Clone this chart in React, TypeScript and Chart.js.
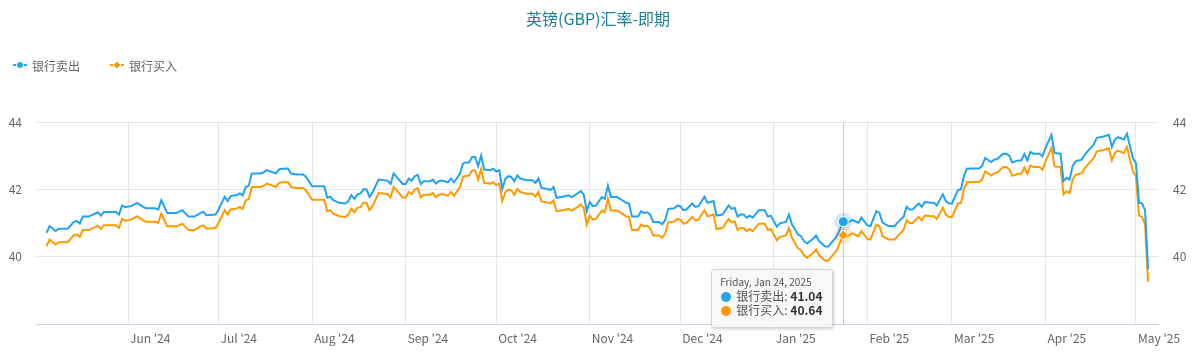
import React, { useEffect, useRef } from 'react';
import { Chart, registerables } from 'chart.js';

Chart.register(...registerables);

const TITLE = '英镑(GBP)汇率-即期';
const SERIES_NAMES = ['银行卖出', '银行买入'];

const dates = [
  '2024-05-05','2024-05-06','2024-05-08','2024-05-09','2024-05-12','2024-05-14','2024-05-15','2024-05-16','2024-05-17','2024-05-19','2024-05-22','2024-05-23','2024-05-24','2024-05-28','2024-05-29','2024-05-30','2024-05-31',
  '2024-06-02','2024-06-04','2024-06-06','2024-06-07','2024-06-10','2024-06-11','2024-06-12','2024-06-14','2024-06-17','2024-06-19','2024-06-21','2024-06-23','2024-06-25','2024-06-26','2024-06-27','2024-06-30',
  '2024-07-01','2024-07-03','2024-07-04','2024-07-05','2024-07-07','2024-07-08','2024-07-09','2024-07-10','2024-07-11','2024-07-12','2024-07-15','2024-07-16','2024-07-17','2024-07-20','2024-07-21','2024-07-22','2024-07-24','2024-07-25','2024-07-27','2024-07-29','2024-07-30',
  '2024-08-01','2024-08-05','2024-08-06','2024-08-07','2024-08-08','2024-08-10','2024-08-12','2024-08-13','2024-08-14','2024-08-15','2024-08-16','2024-08-17','2024-08-18','2024-08-19','2024-08-20','2024-08-21','2024-08-23','2024-08-26','2024-08-27','2024-08-28','2024-08-29','2024-08-31',
  '2024-09-01','2024-09-02','2024-09-03','2024-09-04','2024-09-05','2024-09-06','2024-09-07','2024-09-09','2024-09-10','2024-09-11','2024-09-12','2024-09-13','2024-09-15','2024-09-16','2024-09-17','2024-09-19','2024-09-20','2024-09-21','2024-09-22','2024-09-23','2024-09-24','2024-09-25','2024-09-26','2024-09-27','2024-09-29','2024-09-30',
  '2024-10-01','2024-10-02','2024-10-03','2024-10-04','2024-10-05','2024-10-06','2024-10-07','2024-10-08','2024-10-09','2024-10-11','2024-10-13','2024-10-14','2024-10-15','2024-10-16','2024-10-18','2024-10-19','2024-10-20','2024-10-21','2024-10-23','2024-10-25','2024-10-26','2024-10-28','2024-10-29','2024-10-30','2024-10-31',
  '2024-11-01','2024-11-02','2024-11-03','2024-11-05','2024-11-06','2024-11-07','2024-11-08','2024-11-10','2024-11-11','2024-11-13','2024-11-14','2024-11-15','2024-11-17','2024-11-18','2024-11-19','2024-11-20','2024-11-21','2024-11-22','2024-11-24','2024-11-25','2024-11-26','2024-11-27','2024-11-29','2024-11-30',
  '2024-12-01','2024-12-02','2024-12-03','2024-12-05','2024-12-06','2024-12-07','2024-12-09','2024-12-10','2024-12-12','2024-12-13','2024-12-15','2024-12-17','2024-12-18','2024-12-19','2024-12-20','2024-12-21','2024-12-22','2024-12-23','2024-12-24','2024-12-25','2024-12-27','2024-12-29','2024-12-30','2024-12-31',
  '2025-01-02','2025-01-03','2025-01-05','2025-01-06','2025-01-07','2025-01-09','2025-01-10','2025-01-11','2025-01-12','2025-01-14','2025-01-15','2025-01-16','2025-01-18','2025-01-19','2025-01-21','2025-01-22','2025-01-24','2025-01-25','2025-01-27','2025-01-29','2025-01-30',
  '2025-02-01','2025-02-02','2025-02-04','2025-02-05','2025-02-06','2025-02-08','2025-02-10','2025-02-11','2025-02-13','2025-02-14','2025-02-15','2025-02-16','2025-02-18','2025-02-19','2025-02-20','2025-02-22','2025-02-23','2025-02-24','2025-02-26','2025-02-27','2025-02-28',
  '2025-03-01','2025-03-03','2025-03-04','2025-03-05','2025-03-06','2025-03-08','2025-03-10','2025-03-11','2025-03-12','2025-03-14','2025-03-15','2025-03-16','2025-03-18','2025-03-19','2025-03-20','2025-03-21','2025-03-23','2025-03-24','2025-03-25','2025-03-26','2025-03-27','2025-03-28','2025-03-30','2025-03-31',
  '2025-04-01','2025-04-03','2025-04-04','2025-04-06','2025-04-07','2025-04-08','2025-04-09','2025-04-10','2025-04-11','2025-04-13','2025-04-14','2025-04-16','2025-04-17','2025-04-18','2025-04-20','2025-04-22','2025-04-23','2025-04-24','2025-04-25','2025-04-27','2025-04-28','2025-04-29','2025-04-30',
  '2025-05-01','2025-05-02','2025-05-03','2025-05-04','2025-05-05',
];

const sellRates = [
  40.71,40.91,40.76,40.83,40.83,41.03,41.06,40.99,41.19,41.19,41.32,41.22,41.33,41.33,41.25,41.52,41.47,
  41.50,41.60,41.48,41.44,41.44,41.40,41.68,41.30,41.30,41.38,41.19,41.19,41.30,41.33,41.23,41.25,
  41.40,41.78,41.65,41.80,41.83,41.88,41.82,42.07,42.11,42.47,42.47,42.51,42.57,42.47,42.59,42.61,42.62,42.47,42.44,42.44,42.37,
  42.09,42.09,41.75,41.78,41.68,41.60,41.58,41.65,41.83,41.72,41.85,41.87,42.00,42.00,41.78,41.90,42.29,42.26,42.16,42.47,42.37,42.16,
  42.16,42.32,42.26,42.39,42.43,42.16,42.24,42.24,42.29,42.17,42.24,42.26,42.21,42.32,42.21,42.47,42.77,42.80,42.80,42.96,42.96,42.69,43.00,42.59,42.57,42.61,
  42.53,42.57,42.01,42.31,42.39,42.37,42.24,42.41,42.32,42.27,42.27,42.19,42.32,42.04,42.01,41.98,42.07,41.75,41.78,41.82,41.77,41.88,41.95,41.85,41.35,
  41.62,41.50,41.52,41.77,41.72,42.11,41.77,41.77,41.72,41.60,41.58,41.19,41.19,41.35,41.30,41.32,41.25,41.03,41.03,40.96,41.09,41.42,41.44,41.52,
  41.50,41.38,41.40,41.58,41.48,41.50,41.78,41.60,41.65,41.22,41.25,41.52,41.42,41.45,41.19,41.25,41.25,41.16,41.22,41.16,41.38,41.38,41.19,41.22,
  40.89,40.99,41.03,41.25,40.96,40.66,40.61,40.46,40.39,40.53,40.63,40.46,40.30,40.30,40.51,40.63,41.04,40.99,41.09,41.01,41.16,
  40.93,40.91,41.35,41.30,41.01,40.91,40.91,41.01,41.19,41.48,41.40,41.40,41.58,41.48,41.62,41.60,41.60,41.52,41.85,41.65,41.58,
  41.58,41.98,42.00,42.41,42.61,42.62,42.62,42.69,42.93,42.81,42.88,42.90,43.06,43.06,43.00,42.80,42.86,42.86,43.05,42.86,43.11,43.06,43.06,42.98,
  43.23,43.62,43.08,43.06,42.24,42.34,42.29,42.69,42.83,42.88,43.03,43.23,43.33,43.53,43.56,43.62,43.26,43.48,43.55,43.48,43.65,43.28,42.93,
  42.77,41.60,41.58,41.38,39.63,
];

const buyRates = [
  40.31,40.51,40.36,40.43,40.43,40.63,40.66,40.59,40.79,40.79,40.92,40.82,40.93,40.93,40.85,41.12,41.07,
  41.10,41.20,41.08,41.04,41.04,41.00,41.28,40.90,40.90,40.98,40.79,40.79,40.90,40.93,40.83,40.85,
  41.00,41.38,41.25,41.40,41.43,41.48,41.42,41.67,41.71,42.07,42.07,42.11,42.17,42.07,42.19,42.21,42.22,42.07,42.04,42.04,41.97,
  41.69,41.69,41.35,41.38,41.28,41.20,41.18,41.25,41.43,41.32,41.45,41.47,41.60,41.60,41.38,41.50,41.89,41.86,41.76,42.07,41.97,41.76,
  41.76,41.92,41.86,41.99,42.03,41.76,41.84,41.84,41.89,41.77,41.84,41.86,41.81,41.92,41.81,42.07,42.37,42.40,42.40,42.56,42.56,42.29,42.60,42.19,42.17,42.21,
  42.13,42.17,41.65,41.91,41.99,41.97,41.84,42.01,41.92,41.87,41.87,41.79,41.92,41.64,41.61,41.58,41.67,41.35,41.38,41.42,41.37,41.48,41.55,41.45,40.95,
  41.22,41.10,41.12,41.37,41.32,41.72,41.37,41.37,41.32,41.20,41.18,40.79,40.79,40.95,40.90,40.92,40.85,40.63,40.63,40.56,40.69,41.02,41.04,41.12,
  41.10,40.98,41.00,41.18,41.08,41.10,41.38,41.20,41.25,40.82,40.85,41.12,41.02,41.05,40.79,40.85,40.85,40.76,40.82,40.76,40.98,40.98,40.79,40.82,
  40.49,40.59,40.63,40.85,40.56,40.25,40.19,40.04,39.97,40.11,40.21,40.04,39.88,39.88,40.10,40.22,40.64,40.59,40.69,40.61,40.76,
  40.53,40.51,40.95,40.90,40.61,40.51,40.51,40.61,40.79,41.08,41.00,41.00,41.18,41.08,41.22,41.20,41.20,41.12,41.45,41.25,41.18,
  41.18,41.58,41.60,42.01,42.21,42.22,42.22,42.29,42.53,42.41,42.48,42.50,42.66,42.66,42.60,42.40,42.46,42.46,42.65,42.46,42.71,42.66,42.66,42.58,
  42.83,43.23,42.68,42.66,41.85,41.94,41.89,42.29,42.43,42.48,42.63,42.83,42.93,43.13,43.16,43.22,42.86,43.08,43.15,43.08,43.26,42.88,42.53,
  42.37,41.22,41.18,40.96,39.25,
];

const monthTicks = ['2024-06-01','2024-07-01','2024-08-01','2024-09-01','2024-10-01','2024-11-01','2024-12-01','2025-01-01','2025-02-01','2025-03-01','2025-04-01','2025-05-01'];
const monthLabels = ["Jun '24","Jul '24","Aug '24","Sep '24","Oct '24","Nov '24","Dec '24","Jan '25","Feb '25","Mar '25","Apr '25","May '25"];
const yTicks = [40, 42, 44];
const Y_MIN = 38;
const Y_MAX = 44;
const X_MIN = '2024-05-01T12:00:00Z';
const X_MAX = '2025-05-08T07:00:00Z';
const HOVER_DATE = '2025-01-24';

const DAY = 86400000;
const toDay = (s: string) => Date.parse(s.length === 10 ? s + 'T00:00:00Z' : s) / DAY;

const FONT = '"Noto Sans CJK SC", "Noto Sans", sans-serif';
const BLUE = '#22a3ef';
const ORANGE = '#ff9a00';
const W = 1196;
const H = 364;

const legendPlugin = {
  id: 'topLegend',
  afterDraw(chart: any) {
    const ctx = chart.ctx;
    ctx.save();
    ctx.font = `12px ${FONT}`;
    ctx.textBaseline = 'middle';
    chart.data.datasets.forEach((ds: any, i: number) => {
      const x0 = 13 + i * 97;
      const y = 65;
      ctx.strokeStyle = ds.borderColor;
      ctx.lineWidth = 2;
      ctx.beginPath();
      ctx.moveTo(x0, y);
      ctx.lineTo(x0 + 14, y);
      ctx.stroke();
      ctx.fillStyle = ds.borderColor;
      ctx.strokeStyle = '#ffffff';
      ctx.lineWidth = 1;
      ctx.beginPath();
      const cx = x0 + 7;
      if (ds.pointStyle === 'rectRot') {
        ctx.moveTo(cx, y - 4);
        ctx.lineTo(cx + 4, y);
        ctx.lineTo(cx, y + 4);
        ctx.lineTo(cx - 4, y);
        ctx.closePath();
      } else {
        ctx.arc(cx, y, 3.5, 0, Math.PI * 2);
      }
      ctx.fill();
      ctx.stroke();
      ctx.fillStyle = '#666666';
      ctx.fillText(ds.label, x0 + 19, y + 1);
    });
    ctx.restore();
  },
};

const hoverPlugin = {
  id: 'hoverDecor',
  beforeDatasetsDraw(chart: any) {
    const act = chart.getActiveElements();
    if (!act.length) return;
    const { ctx, chartArea } = chart;
    const x = Math.round(act[0].element.x) + 0.5;
    ctx.save();
    ctx.strokeStyle = '#cccccc';
    ctx.lineWidth = 1;
    ctx.beginPath();
    ctx.moveTo(x, chartArea.top);
    ctx.lineTo(x, chartArea.bottom);
    ctx.stroke();
    act.forEach((a: any) => {
      const ds = chart.data.datasets[a.datasetIndex];
      ctx.globalAlpha = 0.22;
      ctx.fillStyle = ds.borderColor;
      ctx.beginPath();
      ctx.arc(a.element.x, a.element.y, 9, 0, Math.PI * 2);
      ctx.fill();
    });
    ctx.restore();
  },
};

export default function App() {
  const canvasRef = useRef<HTMLCanvasElement | null>(null);
  const tipRef = useRef<HTMLDivElement | null>(null);

  useEffect(() => {
    const canvas = canvasRef.current;
    if (!canvas) return;

    const external = (context: any) => {
      const el = tipRef.current;
      if (!el) return;
      const tt = context.tooltip;
      if (tt.opacity === 0 || !tt.dataPoints || !tt.dataPoints.length) {
        el.style.opacity = '0';
        return;
      }
      const dps = tt.dataPoints;
      const title = new Date(dps[0].parsed.x * DAY).toLocaleDateString('en-US', {
        weekday: 'long', year: 'numeric', month: 'short', day: 'numeric', timeZone: 'UTC',
      });
      el.innerHTML = '';
      const t = document.createElement('div');
      t.textContent = title;
      t.style.cssText = 'font-size:10px;line-height:12px;color:#555;';
      el.appendChild(t);
      dps.forEach((dp: any, i: number) => {
        const row = document.createElement('div');
        row.style.cssText = `font-size:12px;line-height:14px;color:#555;white-space:nowrap;${i === 0 ? 'margin-top:1px;' : ''}`;
        const dot = document.createElement('span');
        dot.style.cssText = `display:inline-block;width:10px;height:10px;border-radius:50%;background:${dp.dataset.borderColor};vertical-align:-1px;margin:0 5px 0 1px;`;
        row.appendChild(dot);
        row.appendChild(document.createTextNode(dp.dataset.label + ': '));
        const b = document.createElement('b');
        b.textContent = dp.parsed.y.toFixed(2);
        b.style.cssText = 'color:#333;font-weight:bold;';
        row.appendChild(b);
        el.appendChild(row);
      });
      el.style.opacity = '1';
      const p = dps[0].element;
      el.style.left = `${p.x - 11 - el.offsetWidth}px`;
      el.style.top = `${p.y + 47}px`;
    };

    const chart = new Chart(canvas, {
      type: 'line',
      data: {
        datasets: [
          {
            label: SERIES_NAMES[0],
            data: dates.map((d, i) => ({ x: toDay(d), y: sellRates[i] })),
            borderColor: BLUE,
            backgroundColor: BLUE,
            borderWidth: 2,
            tension: 0,
            pointStyle: 'circle',
            pointRadius: 0,
            pointHoverRadius: 5,
            pointHoverBorderWidth: 1,
            pointHoverBorderColor: '#ffffff',
            pointHoverBackgroundColor: BLUE,
            yAxisID: 'y',
          },
          {
            label: SERIES_NAMES[1],
            data: dates.map((d, i) => ({ x: toDay(d), y: buyRates[i] })),
            borderColor: ORANGE,
            backgroundColor: ORANGE,
            borderWidth: 2,
            tension: 0,
            pointStyle: 'rectRot',
            pointRadius: 0,
            pointHoverRadius: 5,
            pointHoverBorderWidth: 1,
            pointHoverBorderColor: '#ffffff',
            pointHoverBackgroundColor: ORANGE,
            yAxisID: 'y',
          },
        ],
      },
      options: {
        responsive: false,
        animation: false,
        events: [],
        interaction: { mode: 'index', intersect: false },
        layout: { padding: 0 },
        plugins: {
          legend: { display: false },
          title: {
            display: true,
            text: TITLE,
            color: '#1a7f96',
            font: { family: FONT, size: 16, weight: 'normal', lineHeight: '20px' },
            padding: { top: 9, bottom: 93 },
          },
          tooltip: { enabled: false, external },
        },
        scales: {
          x: {
            type: 'linear',
            min: toDay(X_MIN),
            max: toDay(X_MAX),
            afterBuildTicks: (s: any) => { s.ticks = monthTicks.map((d) => ({ value: toDay(d) })); },
            afterFit: (s: any) => { s.height = 40; },
            grid: { color: '#e6e6e6', drawTicks: false },
            border: { display: true, color: '#ccd6eb' },
            ticks: {
              autoSkip: false,
              maxRotation: 0,
              align: 'start',
              labelOffset: 2,
              padding: 7,
              color: '#666666',
              font: { family: FONT, size: 12 },
              callback: (_v: any, i: number) => monthLabels[i],
            },
          },
          y: {
            position: 'left',
            min: Y_MIN,
            max: Y_MAX,
            afterBuildTicks: (s: any) => { s.ticks = yTicks.map((v) => ({ value: v })); },
            afterFit: (s: any) => { s.width = 36; },
            grid: { color: '#e6e6e6', drawTicks: false },
            border: { display: false },
            ticks: { padding: 14, color: '#666666', font: { family: FONT, size: 12 } },
          },
          y2: {
            position: 'right',
            min: Y_MIN,
            max: Y_MAX,
            afterBuildTicks: (s: any) => { s.ticks = yTicks.map((v) => ({ value: v })); },
            afterFit: (s: any) => { s.width = 38; },
            grid: { display: false, drawTicks: false },
            border: { display: false },
            ticks: { padding: 15, color: '#666666', font: { family: FONT, size: 12 } },
          },
        },
      } as any,
      plugins: [legendPlugin, hoverPlugin],
    });

    const idx = dates.indexOf(HOVER_DATE);
    if (idx >= 0) {
      const active = [
        { datasetIndex: 0, index: idx },
        { datasetIndex: 1, index: idx },
      ];
      chart.setActiveElements(active);
      chart.tooltip?.setActiveElements(active, { x: 0, y: 0 });
      chart.render();
    }

    return () => chart.destroy();
  }, []);

  return (
    <div style={{ position: 'absolute', left: 0, top: 0, width: W, height: H, background: '#ffffff' }}>
      <canvas ref={canvasRef} width={W} height={H} style={{ display: 'block' }} />
      <div
        ref={tipRef}
        style={{
          position: 'absolute',
          opacity: 0,
          pointerEvents: 'none',
          background: 'rgba(247,247,247,0.9)',
          border: '1px solid #d5d5d5',
          borderRadius: 3,
          boxShadow: '1px 1px 3px rgba(0,0,0,0.2)',
          padding: '6px 9px 10px 8px',
          fontFamily: FONT,
        }}
      />
    </div>
  );
}
